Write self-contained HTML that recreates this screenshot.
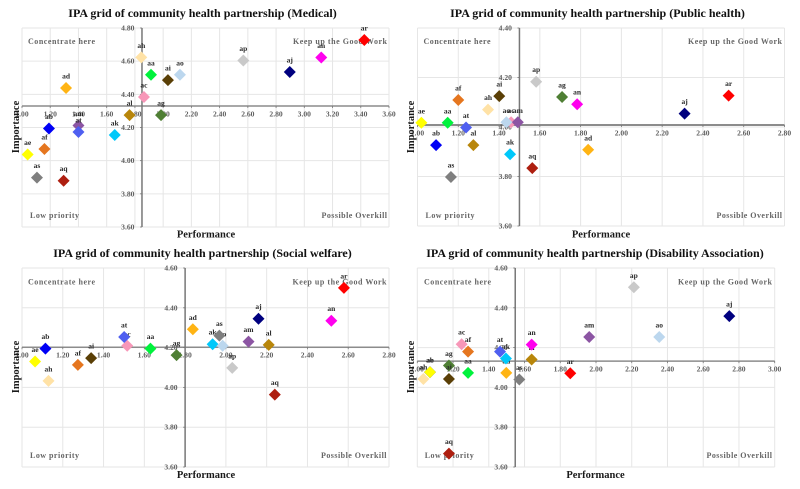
<!DOCTYPE html>
<html lang="en">
<head>
<meta charset="utf-8">
<title>IPA grid of community health partnership</title>
<style>
html,body{margin:0;padding:0;background:#fff;}
#chart{display:block;width:800px;height:489px;font-family:"Liberation Serif",serif;font-weight:bold;filter:blur(0.3px);}
</style>
</head>
<body>
<svg id="chart" xmlns="http://www.w3.org/2000/svg" width="800" height="489" viewBox="0 0 800 489"></svg>
<script>
const categories = ["aa","ab","ac","ad","ae","af","ag","ah","ai","aj","ak","al","am","an","ao","ap","aq","ar","as","at"];

const medicalPerformance = [1.914,1.191,1.864,1.312,1.04,1.159,1.985,1.845,2.034,2.897,1.657,1.762,1.40,3.12,2.119,2.568,1.295,3.425,1.106,1.40];
const medicalImportance = [4.518,4.194,4.384,4.438,4.037,4.07,4.275,4.623,4.486,4.535,4.155,4.275,4.212,4.622,4.518,4.604,3.879,4.728,3.898,4.173];
const publicPerformance = [1.148,1.091,1.459,1.837,1.019,1.20,1.709,1.346,1.401,2.31,1.454,1.274,1.492,1.783,1.436,1.582,1.563,2.526,1.164,1.238];
const publicImportance = [4.017,3.927,4.019,3.908,4.017,4.109,4.121,4.07,4.125,4.054,3.89,3.927,4.019,4.092,4.019,4.183,3.834,4.127,3.798,3.998];
const socialPerformance = [1.63,1.115,1.516,1.838,1.064,1.274,1.758,1.13,1.339,2.16,1.935,2.21,2.111,2.517,1.984,2.031,2.24,2.579,1.968,1.501];
const socialImportance = [4.195,4.195,4.209,4.292,4.13,4.113,4.162,4.033,4.147,4.345,4.217,4.214,4.23,4.335,4.209,4.098,3.964,4.50,4.26,4.253];
const disabilityPerformance = [1.284,1.071,1.248,1.498,1.071,1.284,1.177,1.034,1.177,2.746,1.496,1.64,1.962,1.64,2.354,2.212,1.177,1.856,1.571,1.463];
const disabilityImportance = [4.073,4.077,4.217,4.073,4.077,4.18,4.11,4.042,4.042,4.358,4.145,4.14,4.253,4.215,4.253,4.503,3.667,4.071,4.04,4.18];

const medicalXTicks = ["1.00","1.20","1.40","1.60","1.80","2.00","2.20","2.40","2.60","2.80","3.00","3.20","3.40","3.60"];
const medicalYTicks = ["3.60","3.80","4.00","4.20","4.40","4.60","4.80"];
const publicXTicks = ["1.00","1.20","1.40","1.60","1.80","2.00","2.20","2.40","2.60","2.80"];
const publicYTicks = ["3.60","3.80","4.00","4.20","4.40"];
const socialXTicks = ["1.00","1.20","1.40","1.60","1.80","2.00","2.20","2.40","2.60","2.80"];
const socialYTicks = ["3.60","3.80","4.00","4.20","4.40","4.60"];
const disabilityXTicks = ["1.00","1.20","1.40","1.60","1.80","2.00","2.20","2.40","2.60","2.80","3.00"];
const disabilityYTicks = ["3.60","3.80","4.00","4.20","4.40","4.60"];

const medicalMeans = [1.85, 4.33];
const publicMeans = [1.50, 4.008];
const socialMeans = [1.80, 4.202];
const disabilityMeans = [1.548, 4.132];

const seriesColors = {aa:"#00f23c",ab:"#0000f5",ac:"#f797b8",ad:"#ffb414",ae:"#ffff00",af:"#e5761f",ag:"#4f7f34",ah:"#ffe2a6",ai:"#5a3f06",aj:"#00007f",ak:"#00c8fa",al:"#b8860b",am:"#8c55a3",an:"#ff00ee",ao:"#bcd7ee",ap:"#c9c9c9",aq:"#ae1f10",ar:"#ff0000",as:"#7f7f7f",at:"#4f5ff0"};

const panels = [
  {slug:"medical",title:"IPA grid of community health partnership (Medical)",px:medicalPerformance,py:medicalImportance,xt:medicalXTicks,yt:medicalYTicks,means:medicalMeans,
   box:[22,28,389,227],titleX:202.5,titleY:17,perfX:206,perfY:237.5,impX:19,impY:127,concX:28,lowX:30,rightX:387,textTop:44,textBottom:218,axisWidth:1.5},
  {slug:"public-health",title:"IPA grid of community health partnership (Public health)",px:publicPerformance,py:publicImportance,xt:publicXTicks,yt:publicYTicks,means:publicMeans,
   box:[417.5,28,784.5,226],titleX:597.5,titleY:17,perfX:601,perfY:237.5,impX:414,impY:127,concX:423.5,lowX:425.5,rightX:782,textTop:44,textBottom:218,axisWidth:2},
  {slug:"social-welfare",title:"IPA grid of community health partnership (Social welfare)",px:socialPerformance,py:socialImportance,xt:socialXTicks,yt:socialYTicks,means:socialMeans,
   box:[22,268,389,467],titleX:202.5,titleY:257,perfX:206,perfY:478,impX:19,impY:367,concX:28,lowX:30,rightX:386.5,textTop:284.5,textBottom:458,axisWidth:1.5},
  {slug:"disability-association",title:"IPA grid of community health partnership (Disability Association)",px:disabilityPerformance,py:disabilityImportance,xt:disabilityXTicks,yt:disabilityYTicks,means:disabilityMeans,
   box:[417.3,268,774.7,467],titleX:595,titleY:257,perfX:595.5,perfY:478,impX:414,impY:367,concX:424,lowX:424.7,rightX:772,textTop:284.5,textBottom:458,axisWidth:1.5}
];

const NS = "http://www.w3.org/2000/svg";
const root = document.getElementById("chart");

function make(parent, tag, attrs, text) {
  const el = document.createElementNS(NS, tag);
  for (const k in attrs) el.setAttribute(k, attrs[k]);
  if (text !== undefined) el.textContent = text;
  parent.appendChild(el);
  return el;
}

panels.forEach(function (p) {
  const g = make(root, "g", {});
  
  

  const xMin = parseFloat(p.xt[0]), xMax = parseFloat(p.xt[p.xt.length - 1]);
  const yMin = parseFloat(p.yt[0]), yMax = parseFloat(p.yt[p.yt.length - 1]);
  const sx = function (v) { return p.box[0] + (v - xMin) / (xMax - xMin) * (p.box[2] - p.box[0]); };
  const sy = function (v) { return p.box[3] - (v - yMin) / (yMax - yMin) * (p.box[3] - p.box[1]); };

  const title = make(g, "text", {x: p.titleX, y: p.titleY, "text-anchor": "middle", "font-size": 12, fill: "#111"}, p.title);
  
  

  const grid = make(g, "g", {stroke: "#e6e6e6", "stroke-width": 1});
  
  
  p.xt.forEach(function (t) {
    make(grid, "line", {x1: sx(parseFloat(t)), x2: sx(parseFloat(t)), y1: p.box[1], y2: p.box[3]});
  });
  p.yt.forEach(function (t) {
    make(grid, "line", {x1: p.box[0], x2: p.box[2], y1: sy(parseFloat(t)), y2: sy(parseFloat(t))});
  });

  const crossX = sx(p.means[0]), crossY = sy(p.means[1]);

  const xAxis = make(g, "line", {x1: p.box[0], x2: p.box[2], y1: crossY, y2: crossY, stroke: "#8c8c8c", "stroke-width": p.axisWidth});
  
  
  const yAxis = make(g, "line", {x1: crossX, x2: crossX, y1: p.box[1], y2: p.box[3], stroke: "#777", "stroke-width": 1.5});
  
  

  p.xt.forEach(function (t) {
    const x = sx(parseFloat(t));
    make(g, "line", {x1: x, x2: x, y1: crossY, y2: crossY + 2, stroke: "#777", "stroke-width": 0.8});
    const lab = make(g, "text", {x: x, y: crossY + 10.5, "text-anchor": "middle", "font-size": 7.6, fill: "#5e5e5e"}, t);
    
    
  });
  p.yt.forEach(function (t) {
    const y = sy(parseFloat(t));
    make(g, "line", {x1: crossX - 2, x2: crossX, y1: y, y2: y, stroke: "#777", "stroke-width": 0.8});
    const lab = make(g, "text", {x: crossX - 7.5, y: y + 2.5, "text-anchor": "end", "font-size": 7.6, fill: "#5e5e5e"}, t);
    
    
  });

  const perf = make(g, "text", {x: p.perfX, y: p.perfY, "text-anchor": "middle", "font-size": 10.5, fill: "#1a1a1a"}, "Performance");
  
  
  const imp = make(g, "text", {x: p.impX, y: p.impY, "text-anchor": "middle", "font-size": 10.5, fill: "#1a1a1a", transform: "rotate(-90 " + p.impX + " " + p.impY + ")"}, "Importance");
  
  

  const q1 = make(g, "text", {x: p.concX, y: p.textTop, "font-size": 8, fill: "#666", textLength: 67}, "Concentrate here");
  
  
  const q2 = make(g, "text", {x: p.rightX - 94, y: p.textTop, "font-size": 8, fill: "#666", textLength: 94}, "Keep up the Good Work");
  
  
  const q3 = make(g, "text", {x: p.lowX, y: p.textBottom, "font-size": 8, fill: "#666", textLength: 49}, "Low priority");
  
  
  const q4 = make(g, "text", {x: p.rightX - 65.5, y: p.textBottom, "font-size": 8, fill: "#666", textLength: 65.5}, "Possible Overkill");
  
  

  categories.forEach(function (c, i) {
    const x = sx(p.px[i]), y = sy(p.py[i]), r = 6;
    const pt = make(g, "polygon", {points: x + "," + (y - r) + " " + (x + r) + "," + y + " " + x + "," + (y + r) + " " + (x - r) + "," + y, fill: seriesColors[c]});
    
    
    const lab = make(g, "text", {x: x, y: y - 9.5, "text-anchor": "middle", "font-size": 7.5, fill: "#2a2a2a"}, c);
    
    
  });
});
</script>
</body>
</html>
